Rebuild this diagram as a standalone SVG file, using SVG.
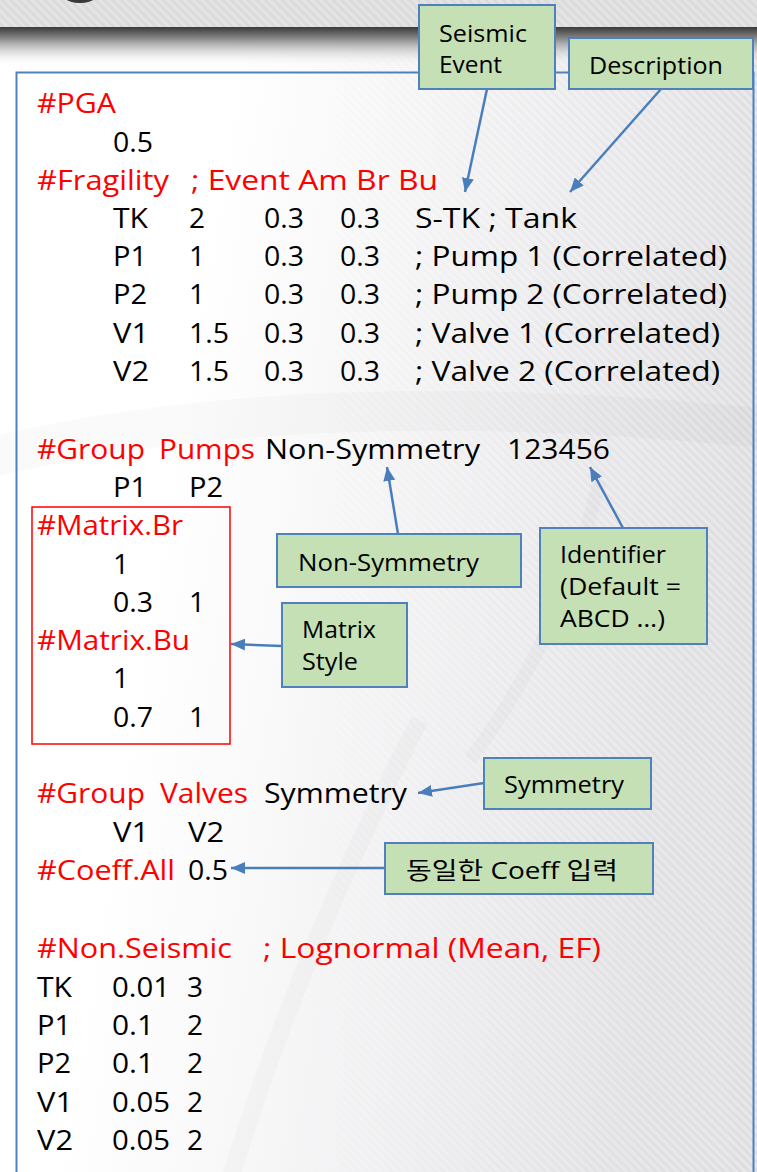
<svg xmlns="http://www.w3.org/2000/svg" width="757" height="1172" viewBox="0 0 757 1172">
  <defs>
    <style>
      .t { font-family: "Open Sans", "Noto Sans", sans-serif; font-size: 28px; }
      .r { fill: #ff0000; }
      .k { fill: #000000; }
      .c { font-family: "Open Sans", "Noto Sans", "Noto Sans CJK KR", sans-serif; font-size: 23.5px; fill: #000000; }
      .box { fill: #c5e0b4; stroke: #4f81bd; stroke-width: 2; }
      .link { fill: none; stroke: #4a7ebb; stroke-width: 2.5; marker-end: url(#arrow); }
      .deco { fill: none; stroke: #000000; stroke-opacity: 0.018; }
    </style>
    <linearGradient id="bgFade" x1="0" y1="0" x2="1" y2="0.25">
      <stop offset="0.3" stop-color="#ffffff"/>
      <stop offset="1" stop-color="#e8e8eb"/>
    </linearGradient>
    <linearGradient id="shadow" x1="0" y1="0" x2="0" y2="1">
      <stop offset="0" stop-color="#3a3a3a"/>
      <stop offset="0.3" stop-color="#8c8c8c"/>
      <stop offset="1" stop-color="#ffffff" stop-opacity="0"/>
    </linearGradient>
    <pattern id="stripes" width="6" height="6" patternUnits="userSpaceOnUse" patternTransform="rotate(-45)">
      <rect width="3" height="6" fill="#000000" fill-opacity="0.04"/>
    </pattern>
    <linearGradient id="stripeFade" x1="0" y1="0" x2="1" y2="0">
      <stop offset="0.35" stop-color="#000000"/>
      <stop offset="1" stop-color="#ffffff"/>
    </linearGradient>
    <mask id="stripeMask">
      <rect width="757" height="1172" fill="url(#stripeFade)"/>
    </mask>
    <marker id="arrow" markerUnits="userSpaceOnUse" markerWidth="16" markerHeight="12" refX="14" refY="6" orient="auto">
      <path d="M0,0 L14,6 L0,12 Z" fill="#4a7ebb"/>
    </marker>
  </defs>

  <!-- page background -->
  <rect width="757" height="1172" fill="url(#bgFade)"/>
  <rect width="757" height="1172" fill="url(#stripes)" mask="url(#stripeMask)"/>
  <path class="deco" stroke-width="40" d="M-20,460 Q300,380 780,430"/>
  <path class="deco" stroke-width="14" d="M600,480 Q560,640 470,760"/>
  <path class="deco" stroke-width="18" d="M420,720 Q300,950 230,1180"/>

  <!-- header band -->
  <rect x="0" y="0" width="757" height="27" fill="#e4e4e4"/>
  <rect x="0" y="0" width="757" height="27" fill="url(#stripes)"/>
  <ellipse cx="80" cy="-18" rx="26" ry="21" fill="#3a3a3a"/>
  <rect x="0" y="27" width="757" height="40" fill="url(#shadow)"/>

  <!-- script panel -->
  <rect id="panel" x="16.5" y="72.5" width="737" height="1130" fill="none" stroke="#4f81bd" stroke-width="2"/>

  <g id="pga">
    <text class="t r" x="37" y="113" textLength="79" lengthAdjust="spacingAndGlyphs">#PGA</text>
    <text class="t k" x="113" y="152" textLength="40" lengthAdjust="spacingAndGlyphs">0.5</text>
  </g>

  <g id="fragility">
    <text class="t r" x="37" y="190" textLength="132" lengthAdjust="spacingAndGlyphs">#Fragility</text>
    <text class="t r" x="191" y="190" textLength="247" lengthAdjust="spacingAndGlyphs">; Event Am Br Bu</text>
    <g class="t k">
      <text x="113" y="228" textLength="35" lengthAdjust="spacingAndGlyphs">TK</text><text x="189" y="228">2</text><text x="264" y="228" textLength="40" lengthAdjust="spacingAndGlyphs">0.3</text><text x="340" y="228" textLength="40" lengthAdjust="spacingAndGlyphs">0.3</text><text x="415" y="228" textLength="162" lengthAdjust="spacingAndGlyphs">S-TK ; Tank</text>
      <text x="113" y="266" textLength="34" lengthAdjust="spacingAndGlyphs">P1</text><text x="189" y="266">1</text><text x="264" y="266" textLength="40" lengthAdjust="spacingAndGlyphs">0.3</text><text x="340" y="266" textLength="40" lengthAdjust="spacingAndGlyphs">0.3</text><text x="415" y="266" textLength="312" lengthAdjust="spacingAndGlyphs">; Pump 1 (Correlated)</text>
      <text x="113" y="304" textLength="34" lengthAdjust="spacingAndGlyphs">P2</text><text x="189" y="304">1</text><text x="264" y="304" textLength="40" lengthAdjust="spacingAndGlyphs">0.3</text><text x="340" y="304" textLength="40" lengthAdjust="spacingAndGlyphs">0.3</text><text x="415" y="304" textLength="312" lengthAdjust="spacingAndGlyphs">; Pump 2 (Correlated)</text>
      <text x="113" y="343" textLength="36" lengthAdjust="spacingAndGlyphs">V1</text><text x="189" y="343" textLength="40" lengthAdjust="spacingAndGlyphs">1.5</text><text x="264" y="343" textLength="40" lengthAdjust="spacingAndGlyphs">0.3</text><text x="340" y="343" textLength="40" lengthAdjust="spacingAndGlyphs">0.3</text><text x="415" y="343" textLength="305" lengthAdjust="spacingAndGlyphs">; Valve 1 (Correlated)</text>
      <text x="113" y="381" textLength="36" lengthAdjust="spacingAndGlyphs">V2</text><text x="189" y="381" textLength="40" lengthAdjust="spacingAndGlyphs">1.5</text><text x="264" y="381" textLength="40" lengthAdjust="spacingAndGlyphs">0.3</text><text x="340" y="381" textLength="40" lengthAdjust="spacingAndGlyphs">0.3</text><text x="415" y="381" textLength="305" lengthAdjust="spacingAndGlyphs">; Valve 2 (Correlated)</text>
    </g>
  </g>

  <g id="group-pumps">
    <text class="t r" x="37" y="459" textLength="108" lengthAdjust="spacingAndGlyphs">#Group</text>
    <text class="t r" x="159" y="459" textLength="96" lengthAdjust="spacingAndGlyphs">Pumps</text>
    <text class="t k" x="265" y="459" textLength="215" lengthAdjust="spacingAndGlyphs">Non-Symmetry</text>
    <text class="t k" x="507" y="459" textLength="103" lengthAdjust="spacingAndGlyphs">123456</text>
    <text class="t k" x="113" y="497" textLength="34" lengthAdjust="spacingAndGlyphs">P1</text>
    <text class="t k" x="189" y="497" textLength="34" lengthAdjust="spacingAndGlyphs">P2</text>
  </g>

  <g id="matrix">
    <rect x="32" y="507" width="198" height="237" fill="none" stroke="#ff0000" stroke-width="1.5"/>
    <text class="t r" x="37" y="535" textLength="146" lengthAdjust="spacingAndGlyphs">#Matrix.Br</text>
    <text class="t k" x="113" y="574">1</text>
    <text class="t k" x="113" y="612" textLength="40" lengthAdjust="spacingAndGlyphs">0.3</text>
    <text class="t k" x="189" y="612">1</text>
    <text class="t r" x="37" y="650" textLength="153" lengthAdjust="spacingAndGlyphs">#Matrix.Bu</text>
    <text class="t k" x="113" y="688">1</text>
    <text class="t k" x="113" y="727" textLength="40" lengthAdjust="spacingAndGlyphs">0.7</text>
    <text class="t k" x="189" y="727">1</text>
  </g>

  <g id="group-valves">
    <text class="t r" x="37" y="803" textLength="108" lengthAdjust="spacingAndGlyphs">#Group</text>
    <text class="t r" x="160" y="803" textLength="88" lengthAdjust="spacingAndGlyphs">Valves</text>
    <text class="t k" x="264" y="803" textLength="143" lengthAdjust="spacingAndGlyphs">Symmetry</text>
    <text class="t k" x="113" y="842" textLength="36" lengthAdjust="spacingAndGlyphs">V1</text>
    <text class="t k" x="188" y="842" textLength="36" lengthAdjust="spacingAndGlyphs">V2</text>
    <text class="t r" x="37" y="880" textLength="138" lengthAdjust="spacingAndGlyphs">#Coeff.All</text>
    <text class="t k" x="188" y="880" textLength="40" lengthAdjust="spacingAndGlyphs">0.5</text>
  </g>

  <g id="non-seismic">
    <text class="t r" x="37" y="958" textLength="195" lengthAdjust="spacingAndGlyphs">#Non.Seismic</text>
    <text class="t r" x="263" y="958" textLength="338" lengthAdjust="spacingAndGlyphs">; Lognormal (Mean, EF)</text>
    <g class="t k">
      <text x="37" y="997" textLength="35" lengthAdjust="spacingAndGlyphs">TK</text><text x="112" y="997" textLength="58" lengthAdjust="spacingAndGlyphs">0.01</text><text x="187" y="997">3</text>
      <text x="37" y="1035" textLength="34" lengthAdjust="spacingAndGlyphs">P1</text><text x="112" y="1035" textLength="42" lengthAdjust="spacingAndGlyphs">0.1</text><text x="187" y="1035">2</text>
      <text x="37" y="1073" textLength="34" lengthAdjust="spacingAndGlyphs">P2</text><text x="112" y="1073" textLength="42" lengthAdjust="spacingAndGlyphs">0.1</text><text x="187" y="1073">2</text>
      <text x="37" y="1112" textLength="36" lengthAdjust="spacingAndGlyphs">V1</text><text x="112" y="1112" textLength="58" lengthAdjust="spacingAndGlyphs">0.05</text><text x="187" y="1112">2</text>
      <text x="37" y="1150" textLength="36" lengthAdjust="spacingAndGlyphs">V2</text><text x="112" y="1150" textLength="58" lengthAdjust="spacingAndGlyphs">0.05</text><text x="187" y="1150">2</text>
    </g>
  </g>

  <!-- connectors -->
  <g id="connectors">
    <path class="link" d="M487,89 L465,192"/>
    <path class="link" d="M661,89 L570,192"/>
    <path class="link" d="M398,534 L387,467"/>
    <path class="link" d="M623,528 L590,467"/>
    <path class="link" d="M282,646 L231,644"/>
    <path class="link" d="M484,783 L418,793"/>
    <path class="link" d="M385,868 L231,868"/>
  </g>

  <!-- callouts -->
  <g id="note-seismic-event">
    <rect class="box" x="419" y="5" width="136" height="84"/>
    <text class="c" x="439" y="42" textLength="88" lengthAdjust="spacingAndGlyphs">Seismic</text>
    <text class="c" x="439" y="73" textLength="63" lengthAdjust="spacingAndGlyphs">Event</text>
  </g>
  <g id="note-description">
    <rect class="box" x="569" y="38" width="184" height="51"/>
    <text class="c" x="589" y="74" textLength="134" lengthAdjust="spacingAndGlyphs">Description</text>
  </g>
  <g id="note-non-symmetry">
    <rect class="box" x="277" y="534" width="244" height="53"/>
    <text class="c" x="298" y="571" textLength="181" lengthAdjust="spacingAndGlyphs">Non-Symmetry</text>
  </g>
  <g id="note-identifier">
    <rect class="box" x="540" y="528" width="167" height="116"/>
    <text class="c" x="560" y="563" textLength="106" lengthAdjust="spacingAndGlyphs">Identifier</text>
    <text class="c" x="560" y="595" textLength="121" lengthAdjust="spacingAndGlyphs">(Default =</text>
    <text class="c" x="560" y="627" textLength="105" lengthAdjust="spacingAndGlyphs">ABCD …)</text>
  </g>
  <g id="note-matrix-style">
    <rect class="box" x="282" y="603" width="125" height="84"/>
    <text class="c" x="302" y="638" textLength="74" lengthAdjust="spacingAndGlyphs">Matrix</text>
    <text class="c" x="302" y="670" textLength="56" lengthAdjust="spacingAndGlyphs">Style</text>
  </g>
  <g id="note-symmetry">
    <rect class="box" x="484" y="758" width="167" height="51"/>
    <text class="c" x="504" y="793" textLength="120" lengthAdjust="spacingAndGlyphs">Symmetry</text>
  </g>
  <g id="note-coeff">
    <rect class="box" x="385" y="843" width="268" height="51"/>
    <text class="c" x="406" y="879" textLength="212" lengthAdjust="spacingAndGlyphs">동일한 Coeff 입력</text>
  </g>
</svg>
